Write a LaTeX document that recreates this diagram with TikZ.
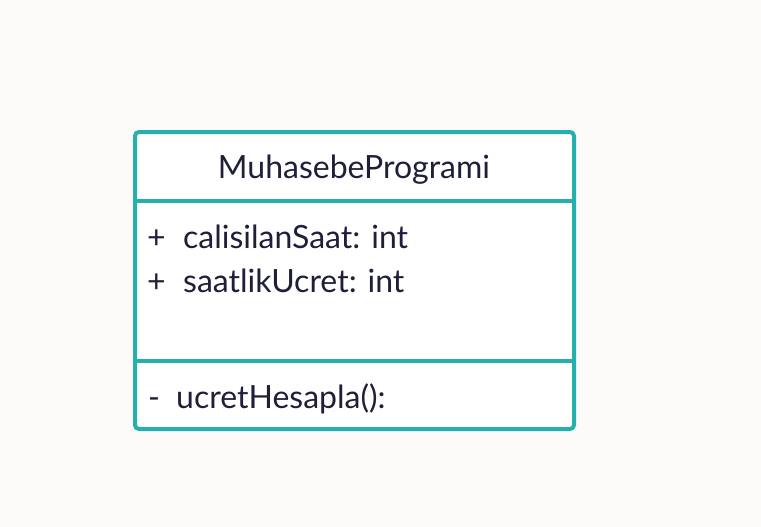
\documentclass[tikz,border=0pt]{standalone}
\usepackage{fontspec}
\setmainfont{Lato}
\definecolor{umlteal}{HTML}{25B0AD}
\definecolor{umltext}{HTML}{1F1F3A}
\definecolor{paper}{HTML}{FCFBF9}
\tikzset{member/.style={anchor=base west, inner sep=0pt, text=umltext, font=\fontsize{32}{38}\selectfont}}

\begin{document}
\begin{tikzpicture}[x=1pt,y=-1pt]
\fill[paper] (0,0) rectangle (761,527);
\draw[umlteal, line width=4, fill=white, rounded corners=4] (135,132) rectangle (574,429);
\draw[umlteal, line width=4] (135,201) -- (574,201) (135,361) -- (574,361);
\node[member, anchor=base] (title) at (354,178) {MuhasebeProgrami};
\node[member] (plusA) at (147,248) {+};
\node[member] (calisilan) at (183,248) {calisilanSaat: int};
\node[member] (plusB) at (147,292) {+};
\node[member] (saatlik) at (183,292) {saatlikUcret: int};
\node[member] (minus) at (148,408) {-};
\node[member] (ucret) at (176,408) {ucretHesapla():};
\end{tikzpicture}
\end{document}
